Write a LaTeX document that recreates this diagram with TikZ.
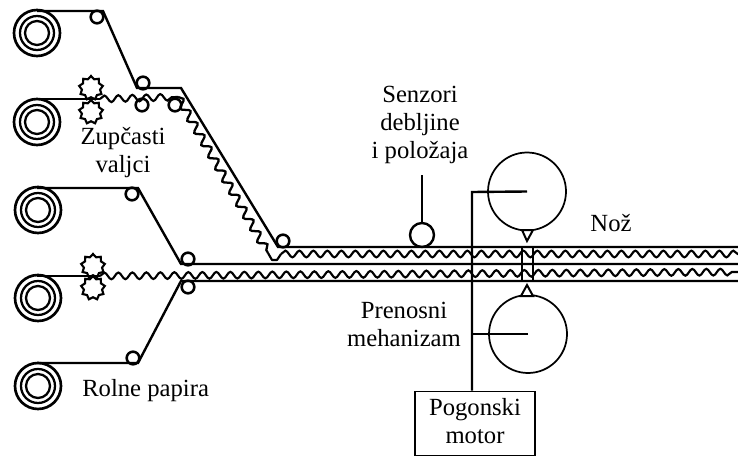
\documentclass[tikz,border=0pt]{standalone}
\usepackage{fontspec}
\setmainfont{Liberation Serif}
\usetikzlibrary{shapes.geometric,decorations.pathmorphing}
\tikzset{
  x=0.75pt,y=-0.75pt,
  sheet/.style={draw=black,line width=1.8pt,line join=miter},
  wavy/.style={draw=black,line width=1.6pt,decorate,decoration={snake,segment length=10.5pt,amplitude=2.5pt}},
  wavydiag/.style={draw=black,line width=1.7pt,decorate,decoration={snake,segment length=10.5pt,amplitude=2.9pt}},
  roller/.style={circle,draw=black,line width=1.9pt,minimum size=9.5pt,inner sep=0pt},
  bigroll/.style={circle,draw=black,line width=1.3pt,minimum size=58.5pt,inner sep=0pt},
  gear/.style={star,star points=9,star point ratio=1.3,draw=black,fill=white,line width=1.6pt,minimum size=18pt,inner sep=0pt},
  lbl/.style={font=\fontsize{18.5}{21}\selectfont,align=center,inner sep=0pt,text=black}
}
\newcommand{\paperroll}[3]{%
  \node[circle,draw=black,line width=2pt,minimum size=34.5pt,inner sep=0pt] (#1) at (#2,#3) {};
  \draw[black,line width=1.7pt] (#2,#3) circle[radius=17];
  \draw[black,line width=1.7pt] (#2,#3) circle[radius=12];
}
\begin{document}
\begin{tikzpicture}
\useasboundingbox (0,0) rectangle (738,456);
% rolls
\paperroll{ra}{37}{33}
\paperroll{rb}{37}{122}
\paperroll{rc}{38}{210}
\paperroll{rd}{38}{298}
\paperroll{re}{38}{386}
% small rollers
\node[roller] (s1) at (97,17) {};
\node[roller] (s2) at (143,83) {};
\node[roller] (s3) at (142,105) {};
\node[roller] (s4) at (175,105) {};
\node[roller] (s5) at (283,241) {};
\node[roller] (s6) at (132,194) {};
\node[roller] (s7) at (188,259) {};
\node[roller] (s8) at (188,287) {};
\node[roller] (s9) at (133,358) {};
% sheets
\draw[sheet] (37,11) -- (103,11) -- (137,88) -- (181,88) -- (278,247) -- (738,247);
\draw[sheet] (37,188) -- (138,188) -- (181,264) -- (738,264);
\draw[sheet] (37,363) -- (138,363) -- (181,281) -- (738,281);
% gears
\node[gear] (g1) at (91,88) {};
\node[gear] (g2) at (91,112) {};
\node[gear] (g3) at (93,266) {};
\node[gear] (g4) at (93,288) {};
% corrugated
\draw[sheet] (37,99) -- (100,99);
\draw[sheet] (37,276) -- (100,276);
\draw[wavy] (100,99) -- (178,97);
\draw[wavydiag] (178,97) -- (268,253);
\draw[black,line width=1.6pt,line join=round] (268,253) -- (272,260) -- (277,260) -- (281,254);
\draw[wavy] (281,254) -- (738,254);
\draw[wavy] (100,276) -- (738,272);
% sensor
\node[circle,draw=black,line width=1.8pt,minimum size=18pt,inner sep=0pt] (sensor) at (422,235) {};
\node[lbl] (senzori) at (420,125) {Senzori\\debljine\\i položaja};
\coordinate (sensortop) at (422,175);
\draw[black,line width=1.4pt] (sensor.north) -- (sensortop);
% drums
\node[bigroll] (d1) at (527,191.5) {};
\node[bigroll] (d2) at (528,334) {};
\node[draw=black,line width=1.3pt,minimum width=90pt,minimum height=48pt,inner sep=0pt] (motor) at (475,423.5) {};
\node[lbl] (motorlabel) at (475,421.5) {Pogonski\\motor};
% drive lines
\coordinate (corner) at (472,192);
\coordinate (junction) at (472,334);
\draw[black,line width=1.8pt] (d1.center) -- (corner) -- (corner |- motor.north);
\draw[black,line width=1.8pt] (d2.center) -- (junction);
% knife
\draw[black,line width=1.5pt,fill=white] (522,230) -- (533,230) -- (527,241) -- cycle;
\draw[black,line width=1.5pt,fill=white] (527,285) -- (521,296) -- (533,296) -- cycle;
\draw[black,line width=1.5pt] (522,247) -- (522,280);
\draw[black,line width=1.5pt] (533,247) -- (533,280);
% labels
\node[lbl] (zup) at (123,153) {Zupčasti\\valjci};
\node[lbl,anchor=west] (rolne) at (82,391) {Rolne papira};
\node[lbl] (noz) at (611,223) {Nož};
\node[lbl] (pren) at (404,324) {Prenosni\\mehanizam};
\end{tikzpicture}
\end{document}
